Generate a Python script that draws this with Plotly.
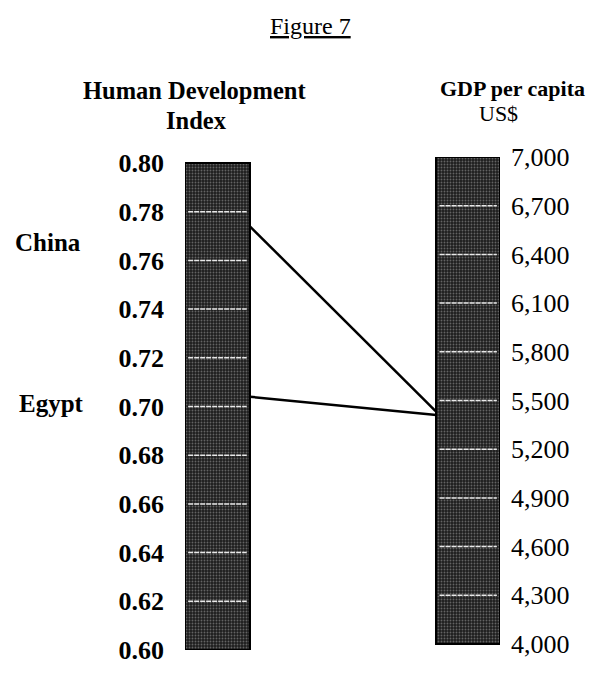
import plotly.graph_objects as go

# ---- data ----
hdi_ticks = [0.60, 0.62, 0.64, 0.66, 0.68, 0.70, 0.72, 0.74, 0.76, 0.78, 0.80]
gdp_ticks = [4000, 4300, 4600, 4900, 5200, 5500, 5800, 6100, 6400, 6700, 7000]
countries = ["China", "Egypt"]
hdi_values = [0.774, 0.704]
gdp_values = [5430, 5410]

hdi_span = [0.60, 0.80]
gdp_span = [4000, 7000]

FONT = "Liberation Serif"
OFF = 8  # browser default body margin

# page-pixel layout targets
plot_l, plot_r, plot_t, plot_b = 185, 500, 157, 650
left_top, left_bot = 163, 650
right_top, right_bot = 157, 644

# axis ranges padded so that the two scales sit slightly offset (as in the scan)
hdi_per_px = (hdi_span[1] - hdi_span[0]) / (left_bot - left_top)
hdi_range = [hdi_span[0] - (plot_b - left_bot) * hdi_per_px, hdi_span[1] + (left_top - plot_t) * hdi_per_px]
gdp_per_px = (gdp_span[1] - gdp_span[0]) / (right_bot - right_top)
gdp_range = [gdp_span[0] - (plot_b - right_bot) * gdp_per_px, gdp_span[1] + (right_top - plot_t) * gdp_per_px]

# bar placement along a unit-width x axis
left_bar_x, left_bar_w = 0.103, 0.206
right_bar_x, right_bar_w = 0.899, 0.202


def gdp_on_hdi_axis(v):
    """Position of a GDP value (right axis) expressed in left-axis (HDI) units."""
    f = (v - gdp_range[0]) / (gdp_range[1] - gdp_range[0])
    return hdi_range[0] + f * (hdi_range[1] - hdi_range[0])


fig = go.Figure()

pattern = dict(shape=".", fgcolor="#a8a8a8", size=3, solidity=0.3, fillmode="overlay")

fig.add_trace(go.Bar(
    x=[left_bar_x], y=[hdi_span[1] - hdi_span[0]], base=[hdi_span[0]], width=[left_bar_w],
    marker=dict(color="#1e1e1e", pattern=pattern, line=dict(color="#000", width=2)),
    yaxis="y", showlegend=False, hoverinfo="skip"))

fig.add_trace(go.Bar(
    x=[right_bar_x], y=[gdp_span[1] - gdp_span[0]], base=[gdp_span[0]], width=[right_bar_w],
    marker=dict(color="#1e1e1e", pattern=pattern, line=dict(color="#000", width=2)),
    yaxis="y2", showlegend=False, hoverinfo="skip"))

# white gridlines inside the bars
gx, gy = [], []
for t in hdi_ticks[1:-1]:
    gx += [left_bar_x - left_bar_w / 2 + 0.01, left_bar_x + left_bar_w / 2 - 0.01, None]
    gy += [t, t, None]
fig.add_trace(go.Scatter(x=gx, y=gy, mode="lines", line=dict(color="#e8e8e8", width=1.5, dash="5px,1px"),
                         yaxis="y", showlegend=False, hoverinfo="skip"))
gx2, gy2 = [], []
for t in gdp_ticks[1:-1]:
    gx2 += [right_bar_x - right_bar_w / 2 + 0.01, right_bar_x + right_bar_w / 2 - 0.01, None]
    gy2 += [t, t, None]
fig.add_trace(go.Scatter(x=gx2, y=gy2, mode="lines", line=dict(color="#e8e8e8", width=1.5, dash="5px,1px"),
                         yaxis="y2", showlegend=False, hoverinfo="skip"))

# connecting lines
for name, h, g in zip(countries, hdi_values, gdp_values):
    fig.add_trace(go.Scatter(
        x=[left_bar_x + left_bar_w / 2, right_bar_x - right_bar_w / 2],
        y=[h, gdp_on_hdi_axis(g)], mode="lines",
        line=dict(color="black", width=2.5), yaxis="y", name=name, showlegend=False))

W, H = 596 - OFF, 675 - OFF

fig.update_layout(
    width=W, height=H,
    margin=dict(l=plot_l - OFF, r=W - (plot_r - OFF), t=plot_t - OFF, b=H - (plot_b - OFF), autoexpand=False),
    paper_bgcolor="white", plot_bgcolor="white",
    bargap=0, barmode="overlay",
    font=dict(family=FONT, color="black", size=24),
    xaxis=dict(range=[0, 1], visible=False, fixedrange=True),
    yaxis=dict(range=hdi_range, tickvals=hdi_ticks, tickformat=".2f", showgrid=False,
               zeroline=False, showline=False, ticks="", ticklabelstandoff=20,
               tickfont=dict(family=FONT, size=26, weight="bold", color="black")),
    yaxis2=dict(range=gdp_range, overlaying="y", tickvals=gdp_ticks, tickformat=",d",
                side="right", showgrid=False, zeroline=False, showline=False, ticks="",
                ticklabelstandoff=10, tickfont=dict(family=FONT, size=26, color="black")),
)

# text labels placed at page-pixel centers
ann = [
    ("<u>Figure 7</u>", 310, 26, 24),
    ("<b>Human Development</b>", 194, 90, 24.5),
    ("<b>Index</b>", 196, 120, 24.5),
    ("<b>GDP per capita</b>", 512, 89, 22),
    ("US$", 498, 114, 22),
    ("<b>China</b>", 48, 242, 25),
    ("<b>Egypt</b>", 51, 403, 25),
]
for text, px, py, size in ann:
    fig.add_annotation(text=text,
                       x=(px - plot_l) / (plot_r - plot_l), y=(plot_b - py) / (plot_b - plot_t),
                       xref="paper", yref="paper", xanchor="center", yanchor="middle",
                       showarrow=False, font=dict(family=FONT, color="black", size=size))

fig.write_html("out.html")
